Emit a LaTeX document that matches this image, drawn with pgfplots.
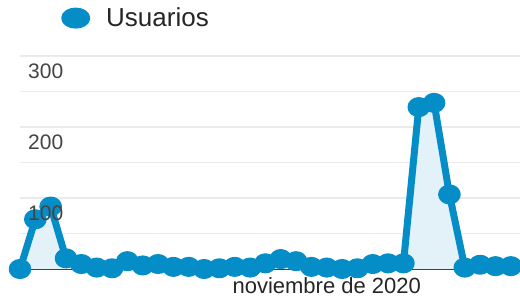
\documentclass[border=0pt]{standalone}
\usepackage{pgfplots}
\pgfplotsset{compat=1.18}
\usepackage{fontspec}
\setmainfont{Liberation Sans}
\definecolor{gablue}{HTML}{058DC7}
\definecolor{gafill}{HTML}{E3F1F9}
\definecolor{gagrid}{HTML}{EBEBEB}
\definecolor{gatext}{HTML}{444444}
\tikzset{ylab/.style={anchor=north west, inner sep=0pt, xshift=8pt, yshift=-8pt, font=\fontsize{21}{23}\selectfont, text=gatext}}
\begin{document}
\begin{tikzpicture}
\begin{axis}[
  at={(20pt,28pt)}, anchor=south west,
  scale only axis, width=500pt, height=213pt,
  xmin=0, xmax=32.6, ymin=0, ymax=300,
  clip=false,
  axis x line*=bottom, axis y line*=left,
  x axis line style={draw=black!75, line width=1.2pt, -},
  y axis line style={draw=none},
  xtick={20}, xticklabels={noviembre de 2020},
  xtick style={draw=none},
  xticklabel style={anchor=north, inner sep=0pt, yshift=-8pt, font=\fontsize{22}{24}\selectfont, text=black!85},
  ytick={50,100,...,300},
  yticklabels={},
  ymajorgrids, major grid style={gagrid, line width=1.2pt},
  ytick style={draw=none},
  legend style={draw=none, fill=none, at={(axis description cs:0.076,1.178)}, anchor=west,
    font=\fontsize{26}{28}\selectfont, text=black!85, nodes={inner sep=0pt}, column sep=16pt},
  legend image code/.code={\fill[gablue] (0pt,0pt) ellipse[x radius=11pt, y radius=7pt];},
]
\addplot[fill=gafill, draw=none, forget plot] coordinates {
(0,0) (1,70) (2,88) (3,15) (4,7) (5,2) (6,1) (7,11) (8,5) (9,7) (10,3)
(11,3) (12,0) (13,1) (14,3) (15,2) (16,8) (17,14) (18,11) (19,3) (20,2)
(21,0) (22,1) (23,7) (24,8) (25,8) (26,228) (27,234) (28,105) (29,2) (30,6)
(31,4) (32,4)} \closedcycle;
\addplot[gablue, line width=7pt, line join=round, mark=*, mark size=6.5pt, mark options={xscale=1.2, fill=gablue, draw=none}] coordinates {
(0,0) (1,70) (2,88) (3,15) (4,7) (5,2) (6,1) (7,11) (8,5) (9,7) (10,3)
(11,3) (12,0) (13,1) (14,3) (15,2) (16,8) (17,14) (18,11) (19,3) (20,2)
(21,0) (22,1) (23,7) (24,8) (25,8) (26,228) (27,234) (28,105) (29,2) (30,6)
(31,4) (32,4)};
\addlegendentry{Usuarios}
\coordinate (l100) at (axis cs:0,100);
\coordinate (l200) at (axis cs:0,200);
\coordinate (l300) at (axis cs:0,300);
\end{axis}
\node[ylab] at (l100) {100};
\node[ylab] at (l200) {200};
\node[ylab] at (l300) {300};
\pgfresetboundingbox
\path (0,0) rectangle (520pt,297pt);
\end{tikzpicture}
\end{document}
